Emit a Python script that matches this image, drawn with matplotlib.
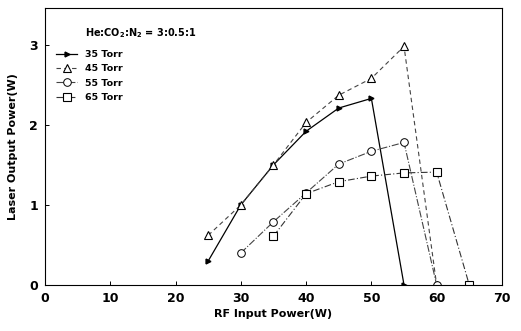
import matplotlib
matplotlib.use("Agg")
import matplotlib.pyplot as plt

plt.rcParams['font.family'] = ['DejaVu Sans']
plt.rcParams['font.weight'] = 'bold'

x35 = [25, 30, 35, 40, 45, 50, 55]
y35 = [0.30, 1.00, 1.50, 1.92, 2.21, 2.33, 0.0]
x45 = [25, 30, 35, 40, 45, 50, 55, 60]
y45 = [0.62, 1.00, 1.50, 2.03, 2.37, 2.58, 2.98, 0.0]
x55 = [30, 35, 40, 45, 50, 55, 60]
y55 = [0.40, 0.79, 1.15, 1.51, 1.67, 1.78, 0.0]
x65 = [35, 40, 45, 50, 55, 60, 65]
y65 = [0.61, 1.14, 1.29, 1.36, 1.40, 1.41, 0.0]

labels = ["35 Torr", "45 Torr", "55 Torr", "65 Torr"]
title = "He:CO$_\\mathbf{2}$:N$_\\mathbf{2}$ = 3:0.5:1"
xticks = [0, 10, 20, 30, 40, 50, 60, 70]
yticks = [0, 1, 2, 3]

fig = plt.figure(figsize=(5.21, 3.31), dpi=100)
ax = fig.add_axes([0.0864, 0.139, 0.877, 0.837])

ax.plot(x35, y35, color='black', lw=0.9, ls='-', marker='>', ms=3.5,
        mfc='black', label=labels[0])
ax.plot(x45, y45, color='#444444', lw=0.8, ls=(0, (4, 3)), marker='^', ms=6,
        mfc='white', mec='black', mew=0.8, label=labels[1])
ax.plot(x55, y55, color='#444444', lw=0.8, ls='-.', marker='o', ms=5.5,
        mfc='white', mec='black', mew=0.7, label=labels[2])
ax.plot(x65, y65, color='#333333', lw=0.8, ls=(0, (6, 2, 1, 2)), marker='s', ms=5.5,
        mfc='white', mec='black', mew=0.8, label=labels[3])

ax.set_xlim(0, 70)
ax.set_ylim(0, 3.46)
ax.set_xticks(xticks)
ax.set_yticks(yticks)
ax.tick_params(direction='in', length=3, width=0.7, labelsize=9, pad=5)
for lab in ax.get_xticklabels() + ax.get_yticklabels():
    lab.set_fontweight('bold')
for s in ax.spines.values():
    s.set_linewidth(0.8)

ax.set_xlabel("RF Input Power(W)", fontsize=8, fontweight='bold', labelpad=3)
ax.set_ylabel("Laser Output Power(W)", fontsize=8, fontweight='bold', labelpad=8)

fig.text(85 / 521, 1 - 33 / 331, title, fontsize=7, fontweight='bold',
         ha='left', va='center')

leg = ax.legend(loc='upper left', bbox_to_anchor=(0.01, 0.871), frameon=False,
                fontsize=6.8, handlelength=2.2, labelspacing=0.55, borderpad=0.2)
for t in leg.get_texts():
    t.set_fontweight('bold')

fig.savefig("out.png", dpi=100)
